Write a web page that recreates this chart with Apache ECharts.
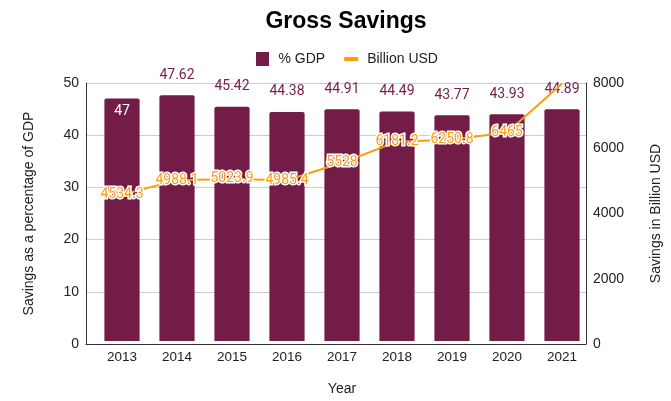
<!DOCTYPE html>
<html><head><meta charset="utf-8">
<script src="https://cdn.jsdelivr.net/npm/echarts@6/dist/echarts.min.js"></script>
<style>html,body{margin:0;padding:0;background:#fff}#c{width:671px;height:401px}</style>
</head><body><div id="c"></div>
<script>
const years = ['2013','2014','2015','2016','2017','2018','2019','2020','2021'];
const pctGDP = [47, 47.62, 45.42, 44.38, 44.91, 44.49, 43.77, 43.93, 44.89];
const billionUSD = [4534.3, 4988.1, 5023.9, 4985.4, 5528, 6181.2, 6250.8, 6465, 7980];
const leftTicks = [0, 10, 20, 30, 40, 50];
const rightTicks = [0, 2000, 4000, 6000, 8000];

const chart = echarts.init(document.getElementById('c'));
const font = 'Liberation Sans, Arial, sans-serif';
const lMin = leftTicks[0], lMax = leftTicks[leftTicks.length-1];
const rMin = rightTicks[0], rMax = rightTicks[rightTicks.length-1];
const orange = '#ff9c0e';
chart.setOption({
  animation: false,
  textStyle: { fontFamily: font },
  title: { text: 'Gross Savings', left: 341, textAlign: 'center', top: 5,
    textStyle: { fontSize: 23, fontWeight: 'bold', color: '#000', fontFamily: font } },
  legend: { top: 47, left: 251, itemGap: 19, itemWidth: 14, itemHeight: 14,
    textStyle: { fontSize: 14, color: '#222', fontFamily: font, padding: [0,0,0,4] },
    data: [
      { name: '% GDP', icon: 'path://M0,0H13V14H0Z', itemStyle: { color: '#721c47' } },
      { name: 'Billion USD', icon: 'path://M0,0H14V4H0Z', itemStyle: { color: orange } }
    ] },
  grid: [
    { left: 86, right: 75, top: 83, bottom: 57 },
    { left: 94.5, right: 81.5, top: 83, bottom: 57 }
  ],
  xAxis: [
    { type: 'value', gridIndex: 0, min: 0, max: 1,
      axisLine: { show: true, onZero: false, lineStyle: { color: '#333', width: 1 } },
      axisTick: { show: false }, axisLabel: { show: false }, splitLine: { show: false } },
    { type: 'category', gridIndex: 1, data: years, name: 'Year', nameLocation: 'middle', nameGap: 41,
      nameTextStyle: { fontSize: 14, color: '#222' },
      axisLine: { show: false }, axisTick: { show: false },
      axisLabel: { fontSize: 13.5, color: '#222', margin: 9 } }
  ],
  yAxis: [
    { type: 'value', gridIndex: 0, min: lMin, max: lMax, interval: 10,
      name: 'Savings as a percentage of GDP', nameLocation: 'middle', nameGap: 50,
      nameTextStyle: { fontSize: 14, color: '#222' },
      axisLine: { show: true, lineStyle: { color: '#333' } }, axisTick: { show: false },
      axisLabel: { fontSize: 14, color: '#222', margin: 7 },
      splitLine: { lineStyle: { color: '#cccccc' } } },
    { type: 'value', gridIndex: 0, position: 'right', min: rMin, max: rMax, interval: 2000,
      name: 'Savings in Billion USD', nameLocation: 'middle', nameGap: 63,
      nameTextStyle: { fontSize: 14, color: '#222' },
      axisLine: { show: true, lineStyle: { color: '#333' } }, axisTick: { show: false },
      axisLabel: { fontSize: 14, color: '#222', margin: 7, formatter: v => String(v) },
      splitLine: { show: false } },
    { type: 'value', gridIndex: 1, min: lMin, max: lMax, show: false },
    { type: 'value', gridIndex: 1, min: rMin, max: rMax, show: false, position: 'right' }
  ],
  series: [
    { name: '% GDP', type: 'bar', xAxisIndex: 1, yAxisIndex: 2, barWidth: '64%',
      itemStyle: { color: '#721c47', borderRadius: [2,2,0,0] },
      data: pctGDP.map((v, i) => i === 0 ? { value: v, label: { position: 'insideTop', distance: 6, color: '#fff' } } : v),
      label: { show: true, position: 'top', distance: 13, color: '#76224e', fontSize: 14, fontFamily: 'Roboto, sans-serif' } },
    { name: 'Billion USD', type: 'line', xAxisIndex: 1, yAxisIndex: 3, showSymbol: true, symbolSize: 0.1, symbol: 'circle',
      lineStyle: { color: orange, width: 2 }, itemStyle: { color: orange },
      z: 5,
      data: billionUSD.map((v, i) => i === billionUSD.length - 1 ? { value: v, label: { show: false } } : v),
      label: { show: true, position: 'inside', color: orange, fontSize: 14, fontFamily: 'Roboto, sans-serif',
        textBorderColor: '#fff', textBorderWidth: 3 } }
  ]
});
</script></body></html>
